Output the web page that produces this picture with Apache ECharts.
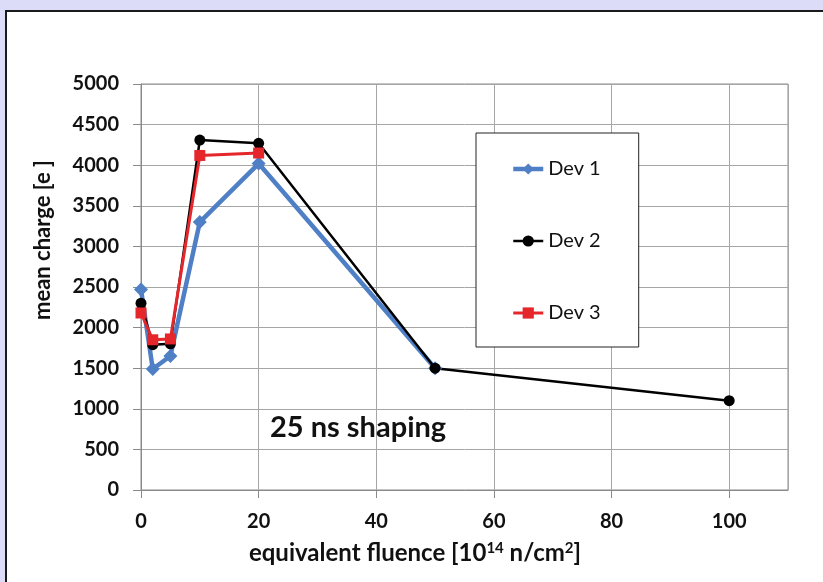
<!DOCTYPE html>
<html>
<head>
<meta charset="utf-8">
<script src="https://cdn.jsdelivr.net/npm/echarts@6/dist/echarts.min.js"></script>
<style>
  html, body { margin: 0; padding: 0; background: #dcdcf9; }
  #chart { width: 823px; height: 582px; }
</style>
</head>
<body>
<div id="chart"></div>
<script>
// Mean collected charge vs. equivalent fluence, 25 ns shaping
const fluenceDev1 = [0, 2, 5, 10, 20, 50];
const chargeDev1  = [2470, 1490, 1650, 3300, 4020, 1500];

const fluenceDev2 = [0, 2, 5, 10, 20, 50, 100];
const chargeDev2  = [2300, 1790, 1800, 4310, 4270, 1500, 1100];

const fluenceDev3 = [0, 2, 5, 10, 20];
const chargeDev3  = [2180, 1850, 1860, 4120, 4150];

const seriesNames = ['Dev 1', 'Dev 2', 'Dev 3'];

const FONT = 'Lato, "Open Sans", sans-serif';
const COLORS = ['#4f7fc4', '#000000', '#e5262b'];
const LINE_WIDTHS = [4.5, 2.5, 3];

function pairs(xs, ys) {
  return xs.map((x, i) => [x, ys[i]]);
}

const chart = echarts.init(document.getElementById('chart'));

chart.setOption({
  backgroundColor: '#dcdcf9',
  animation: false,
  textStyle: { fontFamily: FONT },
  graphic: [
    {
      type: 'rect',
      z: -10,
      shape: { x: 6, y: 11, width: 830, height: 600 },
      style: { fill: '#ffffff', stroke: '#1a1a1a', lineWidth: 2 }
    },
    {
      type: 'text',
      left: 270,
      top: 413,
      z: 10,
      style: {
        text: '25 ns shaping',
        font: 'bold 29px ' + FONT,
        fill: '#111'
      }
    },
    {
      type: 'text',
      x: 43,
      y: 240,
      rotation: Math.PI / 2,
      style: {
        text: 'mean charge [e ]',
        font: 'bold 22px ' + FONT,
        fill: '#111',
        align: 'center',
        verticalAlign: 'middle'
      }
    },
    {
      type: 'text',
      x: 415,
      y: 553,
      style: {
        text: '{t|equivalent fluence [10}{s|14}{t| n/cm}{s|2}{t|]}',
        align: 'center',
        verticalAlign: 'middle',
        rich: {
          t: { font: 'bold 24px ' + FONT, fill: '#111' },
          s: { font: 'bold 15px ' + FONT, fill: '#111', padding: [0, 0, 10, 0] }
        }
      }
    }
  ],
  grid: {
    left: 141,
    top: 84,
    right: 35,
    bottom: 92,
    show: true,
    borderColor: '#8a8a8a',
    borderWidth: 1
  },
  legend: {
    data: seriesNames.map((name, i) => ({
      name: name,
      lineStyle: { width: LINE_WIDTHS[i], color: COLORS[i] },
      itemStyle: { color: COLORS[i] }
    })),
    orient: 'vertical',
    left: 476,
    top: 133,
    padding: [26, 38, 24, 35],
    itemGap: 52,
    itemWidth: 30,
    itemHeight: 14,
    backgroundColor: '#ffffff',
    borderColor: '#222',
    borderWidth: 1,
    textStyle: { fontFamily: FONT, fontSize: 20, color: '#111' }
  },
  xAxis: {
    type: 'value',
    min: 0,
    max: 110,
    interval: 20,
    axisLine: { show: true, onZero: false, lineStyle: { color: '#8a8a8a' } },
    axisTick: { show: true, length: 8, lineStyle: { color: '#8a8a8a' } },
    axisLabel: {
      showMaxLabel: false,
      margin: 22,
      fontFamily: FONT,
      fontWeight: 'bold',
      fontSize: 20,
      color: '#111',
      formatter: v => String(v)
    },
    splitLine: { show: true, lineStyle: { color: '#a6a6a6', width: 1 } }
  },
  yAxis: {
    type: 'value',
    min: 0,
    max: 5000,
    interval: 500,
    axisLine: { show: true, onZero: false, lineStyle: { color: '#8a8a8a' } },
    axisTick: { show: true, length: 8, lineStyle: { color: '#8a8a8a' } },
    axisLabel: {
      margin: 22,
      fontFamily: FONT,
      fontWeight: 'bold',
      fontSize: 20,
      color: '#111',
      formatter: v => String(v)
    },
    splitLine: { show: true, lineStyle: { color: '#a6a6a6', width: 1 } }
  },
  series: [
    {
      name: seriesNames[0],
      type: 'line',
      data: pairs(fluenceDev1, chargeDev1),
      symbol: 'diamond',
      symbolSize: 14,
      color: COLORS[0],
      lineStyle: { width: LINE_WIDTHS[0], color: COLORS[0] },
      itemStyle: { color: COLORS[0] }
    },
    {
      name: seriesNames[1],
      type: 'line',
      data: pairs(fluenceDev2, chargeDev2),
      symbol: 'circle',
      symbolSize: 11,
      color: COLORS[1],
      lineStyle: { width: LINE_WIDTHS[1], color: COLORS[1] },
      itemStyle: { color: COLORS[1] }
    },
    {
      name: seriesNames[2],
      type: 'line',
      data: pairs(fluenceDev3, chargeDev3),
      symbol: 'rect',
      symbolSize: 11,
      color: COLORS[2],
      lineStyle: { width: LINE_WIDTHS[2], color: COLORS[2] },
      itemStyle: { color: COLORS[2] }
    }
  ]
});
</script>
</body>
</html>
